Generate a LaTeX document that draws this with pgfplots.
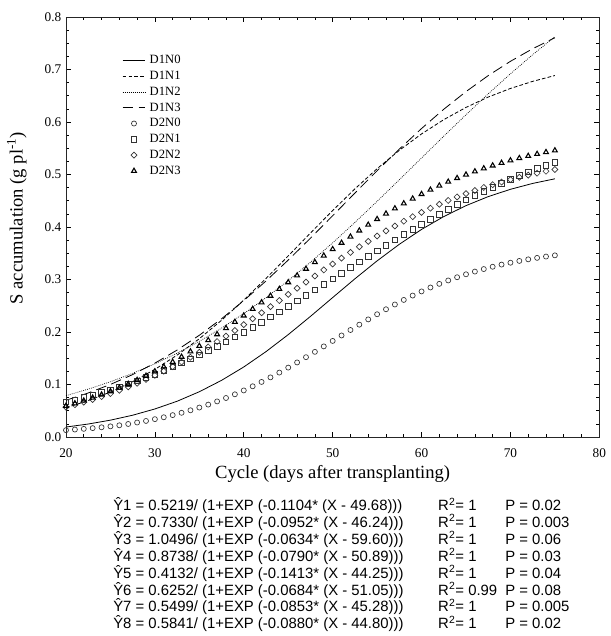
\documentclass[border=0pt]{standalone}
\usepackage{pgfplots}
\pgfplotsset{compat=1.18}
\usepackage{fontspec}
\setmainfont{Liberation Serif}
\newfontfamily\arial{Liberation Sans}
\definecolor{mk}{HTML}{333333}
\begin{document}
\begin{tikzpicture}
\begin{axis}[
  scale only axis, width=400bp, height=315bp,
  xmin=20, xmax=80, ymin=0, ymax=0.8,
  xtick={20,30,40,50,60,70,80},
  ytick={0,0.1,0.2,0.3,0.4,0.5,0.6,0.7,0.8},
  minor x tick num=4, minor y tick num=3,
  tick align=inside, xtick pos=both, ytick pos=both,
  major tick length=4bp, minor tick length=2.5bp,
  tick style={line width=0.5pt, black},
  axis line style={line width=0.7pt, black!85},
  /pgf/number format/assume math mode=true,
  yticklabel style={/pgf/number format/.cd, fixed, fixed zerofill, precision=1},
  tick label style={font=\fontsize{10}{12}\selectfont},
  xticklabel style={yshift=-4.9bp},
  xlabel={Cycle (days after transplanting)},
  ylabel={S accumulation (g pl\textsuperscript{-1})},
  label style={font=\fontsize{14}{16}\selectfont},
  xlabel style={at={(axis description cs:0.5,0)}, anchor=base, yshift=-31.5bp},
  ylabel style={at={(axis description cs:-0.0815,0.521)}, rotate=0, anchor=base},
  legend style={draw=none, fill=none, at={(0.105,0.915)}, anchor=north west,
    inner sep=0pt, font=\fontsize{9.5}{11}\selectfont, column sep=2bp,
    nodes={inner sep=1pt, text height=7pt, text depth=2pt}, row sep=0.9pt},
  legend cell align=left,
]
% D1N0
\addplot[black, line width=0.6pt] coordinates {(20,0.0190)(22.5,0.0247)(25,0.0321)(27.5,0.0415)(30,0.0534)(32.5,0.0681)(35,0.0862)(37.5,0.1079)(40,0.1334)(42.5,0.1626)(45,0.1950)(47.5,0.2297)(50,0.2656)(52.5,0.3013)(55,0.3355)(57.5,0.3671)(60,0.3954)(62.5,0.4199)(65,0.4407)(67.5,0.4579)(70,0.4718)(72.5,0.4830)(75,0.4918)};
\addlegendentry{D1N0}
% D1N1
\addplot[black, line width=0.6pt, dash pattern=on 2.8bp off 1.6bp] coordinates {(20,0.0557)(22.5,0.0693)(25,0.0857)(27.5,0.1054)(30,0.1288)(32.5,0.1560)(35,0.1872)(37.5,0.2223)(40,0.2608)(42.5,0.3020)(45,0.3449)(47.5,0.3885)(50,0.4314)(52.5,0.4726)(55,0.5111)(57.5,0.5461)(60,0.5773)(62.5,0.6045)(65,0.6278)(67.5,0.6475)(70,0.6639)(72.5,0.6774)(75,0.6885)};
\addlegendentry{D1N1}
% D1N2
\addplot[black, line width=0.5pt, dash pattern=on 0.6bp off 0.9bp] coordinates {(20,0.0788)(22.5,0.0912)(25,0.1053)(27.5,0.1213)(30,0.1394)(32.5,0.1597)(35,0.1823)(37.5,0.2074)(40,0.2351)(42.5,0.2653)(45,0.2979)(47.5,0.3329)(50,0.3698)(52.5,0.4087)(55,0.4489)(57.5,0.4900)(60,0.5315)(62.5,0.5730)(65,0.6138)(67.5,0.6536)(70,0.6918)(72.5,0.7282)(75,0.7625)};
\addlegendentry{D1N2}
% D1N3
\addplot[black, line width=0.6pt, dash pattern=on 8bp off 4bp] coordinates {(20,0.0700)(22.5,0.0839)(25,0.1001)(27.5,0.1189)(30,0.1407)(32.5,0.1656)(35,0.1938)(37.5,0.2252)(40,0.2598)(42.5,0.2972)(45,0.3370)(47.5,0.3787)(50,0.4215)(52.5,0.4646)(55,0.5072)(57.5,0.5484)(60,0.5876)(62.5,0.6243)(65,0.6579)(67.5,0.6884)(70,0.7156)(72.5,0.7396)(75,0.7605)};
\addlegendentry{D1N3}
% D2N0
\addplot[only marks, mark=o, mark size=1.9pt, mark options={mk, line width=0.5pt}] coordinates {(20,0.0130)(21,0.0142)(22,0.0155)(23,0.0169)(24,0.0185)(25,0.0203)(26,0.0223)(27,0.0248)(28,0.0276)(29,0.0306)(30,0.0340)(31,0.0376)(32,0.0417)(33,0.0461)(34,0.0509)(35,0.0561)(36,0.0617)(37,0.0678)(38,0.0743)(39,0.0813)(40,0.0887)(41,0.0966)(42,0.1049)(43,0.1136)(44,0.1227)(45,0.1322)(46,0.1420)(47,0.1520)(48,0.1622)(49,0.1726)(50,0.1830)(51,0.1934)(52,0.2038)(53,0.2140)(54,0.2240)(55,0.2338)(56,0.2433)(57,0.2524)(58,0.2611)(59,0.2694)(60,0.2773)(61,0.2848)(62,0.2917)(63,0.2982)(64,0.3043)(65,0.3099)(66,0.3151)(67,0.3199)(68,0.3243)(69,0.3284)(70,0.3320)(71,0.3354)(72,0.3384)(73,0.3412)(74,0.3437)(75,0.3460)};
\addlegendentry{D2N0}
% D2N1
\addplot[only marks, mark=square, mark size=2.1pt, mark options={mk, line width=0.55pt}] coordinates {(20,0.0668)(21,0.0710)(22,0.0754)(23,0.0800)(24,0.0849)(25,0.0901)(26,0.0955)(27,0.1011)(28,0.1071)(29,0.1133)(30,0.1198)(31,0.1265)(32,0.1336)(33,0.1409)(34,0.1485)(35,0.1564)(36,0.1645)(37,0.1729)(38,0.1816)(39,0.1906)(40,0.1997)(41,0.2092)(42,0.2188)(43,0.2286)(44,0.2386)(45,0.2488)(46,0.2591)(47,0.2696)(48,0.2801)(49,0.2907)(50,0.3013)(51,0.3121)(52,0.3228)(53,0.3334)(54,0.3440)(55,0.3546)(56,0.3650)(57,0.3753)(58,0.3855)(59,0.3955)(60,0.4054)(61,0.4150)(62,0.4245)(63,0.4337)(64,0.4426)(65,0.4513)(66,0.4598)(67,0.4680)(68,0.4759)(69,0.4835)(70,0.4909)(71,0.4980)(72,0.5048)(73,0.5112)(74,0.5175)(75,0.5234)};
\addlegendentry{D2N1}
% D2N2
\addplot[only marks, mark=square, mark size=1.6pt, mark options={mk, line width=0.5pt, rotate=45}] coordinates {(20,0.0570)(21,0.0616)(22,0.0664)(23,0.0715)(24,0.0770)(25,0.0828)(26,0.0890)(27,0.0955)(28,0.1025)(29,0.1098)(30,0.1174)(31,0.1255)(32,0.1340)(33,0.1428)(34,0.1520)(35,0.1615)(36,0.1715)(37,0.1817)(38,0.1922)(39,0.2030)(40,0.2141)(41,0.2253)(42,0.2367)(43,0.2483)(44,0.2599)(45,0.2716)(46,0.2834)(47,0.2951)(48,0.3067)(49,0.3182)(50,0.3295)(51,0.3407)(52,0.3516)(53,0.3623)(54,0.3727)(55,0.3828)(56,0.3926)(57,0.4019)(58,0.4110)(59,0.4197)(60,0.4279)(61,0.4358)(62,0.4434)(63,0.4505)(64,0.4573)(65,0.4636)(66,0.4696)(67,0.4753)(68,0.4806)(69,0.4856)(70,0.4903)(71,0.4947)(72,0.4988)(73,0.5026)(74,0.5062)(75,0.5095)};
\addlegendentry{D2N2}
% D2N3
\addplot[only marks, mark=triangle, mark size=2.1pt, mark options={black, line width=0.8pt}] coordinates {(20,0.0592)(21,0.0640)(22,0.0692)(23,0.0748)(24,0.0807)(25,0.0870)(26,0.0938)(27,0.1009)(28,0.1084)(29,0.1164)(30,0.1249)(31,0.1337)(32,0.1430)(33,0.1527)(34,0.1628)(35,0.1734)(36,0.1843)(37,0.1955)(38,0.2072)(39,0.2191)(40,0.2312)(41,0.2437)(42,0.2563)(43,0.2689)(44,0.2818)(45,0.2946)(46,0.3075)(47,0.3203)(48,0.3329)(49,0.3454)(50,0.3577)(51,0.3698)(52,0.3816)(53,0.3931)(54,0.4042)(55,0.4150)(56,0.4254)(57,0.4353)(58,0.4449)(59,0.4540)(60,0.4627)(61,0.4709)(62,0.4787)(63,0.4861)(64,0.4931)(65,0.4997)(66,0.5058)(67,0.5116)(68,0.5170)(69,0.5220)(70,0.5267)(71,0.5311)(72,0.5352)(73,0.5390)(74,0.5425)(75,0.5458)};
\addlegendentry{D2N3}
\end{axis}
\node[anchor=base west, inner sep=0pt, font=\arial\fontsize{11.2}{12.75}\selectfont] at (35.25bp,-55bp) {%
\setlength{\tabcolsep}{0pt}%
\begin{tabular}[t]{@{}p{243.75bp}p{50.25bp}l@{}}
\smash{Ŷ}1 = 0.5219/ (1+EXP (-0.1104* (X - 49.68))) & \smash{R\textsuperscript{2}}= 1 & P = 0.02\\
\smash{Ŷ}2 = 0.7330/ (1+EXP (-0.0952* (X - 46.24))) & \smash{R\textsuperscript{2}}= 1 & P = 0.003\\
\smash{Ŷ}3 = 1.0496/ (1+EXP (-0.0634* (X - 59.60))) & \smash{R\textsuperscript{2}}= 1 & P = 0.06\\
\smash{Ŷ}4 = 0.8738/ (1+EXP (-0.0790* (X - 50.89))) & \smash{R\textsuperscript{2}}= 1 & P = 0.03\\
\smash{Ŷ}5 = 0.4132/ (1+EXP (-0.1413* (X - 44.25))) & \smash{R\textsuperscript{2}}= 1 & P = 0.04\\
\smash{Ŷ}6 = 0.6252/ (1+EXP (-0.0684* (X - 51.05))) & \smash{R\textsuperscript{2}}= 0.99 & P = 0.08\\
\smash{Ŷ}7 = 0.5499/ (1+EXP (-0.0853* (X - 45.28))) & \smash{R\textsuperscript{2}}= 1 & P = 0.005\\
\smash{Ŷ}8 = 0.5841/ (1+EXP (-0.0880* (X - 44.80))) & \smash{R\textsuperscript{2}}= 1 & P = 0.02
\end{tabular}};
\path (-49.5bp,-149.25bp) rectangle (405.25bp,327.75bp);
\end{tikzpicture}
\end{document}
